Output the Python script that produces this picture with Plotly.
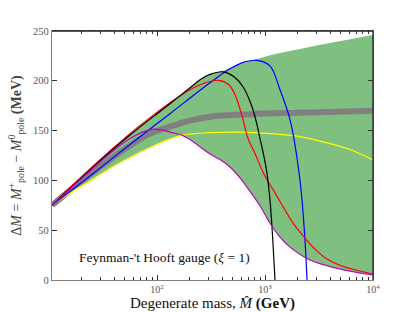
import plotly.graph_objects as go

# ---- data (mass in GeV, Delta M in MeV) ----
band_up_m = [10.66, 15.65, 23.97, 36.7, 56.2, 86.1, 131.9, 202.1, 250.1, 309.6, 408.4, 586.9, 843, 1377, 2109, 4000, 10000]
band_up_v = [75, 92.5, 111, 129, 146.5, 162.5, 177.5, 193, 201, 206.5, 210, 216.5, 222, 228, 232, 238, 246]
band_lo_m = [10.66, 15.65, 23.97, 36.7, 56.2, 86.1, 131.9, 174.1, 202.1, 309.6, 383.1, 474.2, 586.9, 726.3, 899, 1112.6, 1377, 1704, 2610, 3998, 6124, 10000]
band_lo_v = [75, 87, 99.5, 112, 123, 133, 141.5, 145.5, 141.5, 126.5, 121, 113.5, 102.5, 89, 74.5, 57, 43, 33, 20, 13.5, 9, 5]

gray_m = [10.66, 15.65, 23.97, 36.7, 56.2, 86.1, 131.9, 202.1, 309.6, 726.3, 2109, 10000]
gray_v = [75, 90, 106, 121, 135, 147, 154, 160, 164, 166.5, 168, 170]

yellow_m = [10.66, 15.65, 23.97, 36.7, 56.2, 86.1, 131.9, 174.1, 202.1, 309.6, 586.9, 1112.6, 2109, 3998, 6124, 10000]
yellow_v = [75, 87, 99.5, 112, 123, 133, 141.5, 145.5, 146.5, 148, 148.5, 147, 144, 137, 131, 120.5]

magenta_m = [10.66, 15.65, 23.97, 36.7, 56.2, 86.1, 106.6, 131.9, 174.1, 202.1, 309.6, 383.1, 474.2, 586.9, 726.3, 899, 1112.6, 1377, 1704, 2610, 3998, 6124, 10000]
magenta_v = [75, 91.5, 109.5, 127, 142, 151, 151, 148.5, 145, 141, 126.5, 121, 113.5, 102.5, 89, 74.5, 57, 43, 33, 20, 13.5, 9, 5]

blue_m = [10.66, 23.97, 56.2, 131.9, 309.6, 474.2, 652.9, 843, 1112.6, 1377, 1704, 2109, 2346, 2448]
blue_v = [75, 104.5, 136, 167, 198, 212, 219, 220.5, 215, 191, 161, 100, 40, 0]

red_m = [10.66, 15.65, 23.97, 36.7, 56.2, 86.1, 131.9, 202.1, 290.4, 374, 464, 527.6, 612.4, 696, 808, 982, 1213, 1497, 1848, 2346, 2903, 3746, 5150, 10000]
red_v = [75, 92.8, 111.5, 129.5, 147, 163, 178, 191, 198.5, 200.5, 196, 186, 165, 142, 127, 106, 89, 72, 56, 42, 31, 21, 14, 6]

black_m = [10.66, 15.65, 23.97, 36.7, 56.2, 86.1, 131.9, 202.1, 250.1, 309.6, 408.4, 517, 625.6, 758, 843, 899, 982, 1043, 1113, 1161, 1238]
black_v = [75, 92, 110.5, 128.5, 145.5, 161.5, 177, 193, 201, 206.5, 209, 204, 194, 174, 156, 142, 123, 107, 80, 53, 0]

x_tickvals = [100, 1000, 10000]
x_ticktext = ["10<sup>2</sup>", "10<sup>3</sup>", "10<sup>4</sup>"]
y_tickvals = [0, 50, 100, 150, 200, 250]

minor_vals = [m * d for d in (10, 100, 1000) for m in range(2, 10)]

FONT = "Liberation Serif"
TICKC = "#555555"
SM = 1.0

fig = go.Figure()

fig.add_trace(go.Scatter(x=band_lo_m, y=band_lo_v, mode="lines",
                         line=dict(width=0, shape="spline", smoothing=SM),
                         hoverinfo="skip", showlegend=False))
fig.add_trace(go.Scatter(x=band_up_m, y=band_up_v, mode="lines",
                         line=dict(width=0, shape="spline", smoothing=SM),
                         fill="tonexty", fillcolor="rgba(0,128,0,0.5)",
                         hoverinfo="skip", showlegend=False))
fig.add_trace(go.Scatter(x=gray_m, y=gray_v, mode="lines",
                         line=dict(color="#808080", width=6, shape="spline", smoothing=SM),
                         showlegend=False))

def add_line(xs, ys, color):
    fig.add_trace(go.Scatter(x=xs, y=ys, mode="lines",
                             line=dict(color=color, width=1.2, shape="spline", smoothing=SM),
                             showlegend=False))

add_line(yellow_m, yellow_v, "#ffff00")
add_line(blue_m, blue_v, "#0000ff")
add_line(red_m, red_v, "#ff0000")
add_line(black_m, black_v, "#000000")
add_line(magenta_m, magenta_v, "#bf00bf")

fig.update_xaxes(type="log", range=[1.0278, 4.0], automargin=False,
                 tickvals=x_tickvals, ticktext=x_ticktext,
                 ticks="inside", ticklen=5, tickcolor="#333333",
                 minor=dict(tickvals=minor_vals, ticks="inside", ticklen=2.5, tickcolor="#333333"),
                 showline=True, linecolor="#808080", linewidth=1.3, mirror="allticks",
                 showgrid=False, zeroline=False,
                 tickfont=dict(family=FONT, size=10, color=TICKC),
                 title=dict(text="Degenerate mass, <i>M̂</i> <b>(GeV)</b>",
                            font=dict(family=FONT, size=15, color="#111111"), standoff=3))
fig.update_yaxes(range=[0, 250], tickvals=y_tickvals, automargin=False,
                 ticks="inside", ticklen=5, tickcolor="#333333",
                 showline=True, linecolor="#808080", linewidth=1.3, mirror="allticks",
                 showgrid=False, zeroline=False,
                 tickfont=dict(family=FONT, size=10.5, color=TICKC),
                 title=dict(text="Δ<i>M</i> = <i>M</i><sup>+</sup><sub>pole</sub> − <i>M</i><sup>0</sup><sub>pole</sub> <b>(MeV)</b>",
                            font=dict(family=FONT, size=14, color="#444444"), standoff=8))

# darker top and right frame
fig.add_shape(type="line", xref="paper", yref="paper", x0=0, x1=1, y0=1, y1=1,
              line=dict(color="#222222", width=1.3))
fig.add_shape(type="line", xref="paper", yref="paper", x0=1, x1=1, y0=0, y1=1,
              line=dict(color="#222222", width=1.3))

fig.add_annotation(text="Feynman-'t Hooft gauge (<i>ξ</i> = 1)", xref="paper", yref="paper",
                   x=0.35, y=0.092, xanchor="center", yanchor="middle", showarrow=False,
                   font=dict(family=FONT, size=13.5, color="#111111"))

fig.update_layout(width=415, height=312,
                  margin=dict(l=52, r=42, t=31, b=32),
                  paper_bgcolor="white", plot_bgcolor="white",
                  showlegend=False)

fig.write_html("out.html", config={"displayModeBar": False},
               post_script="document.body.style.margin='0px';")
